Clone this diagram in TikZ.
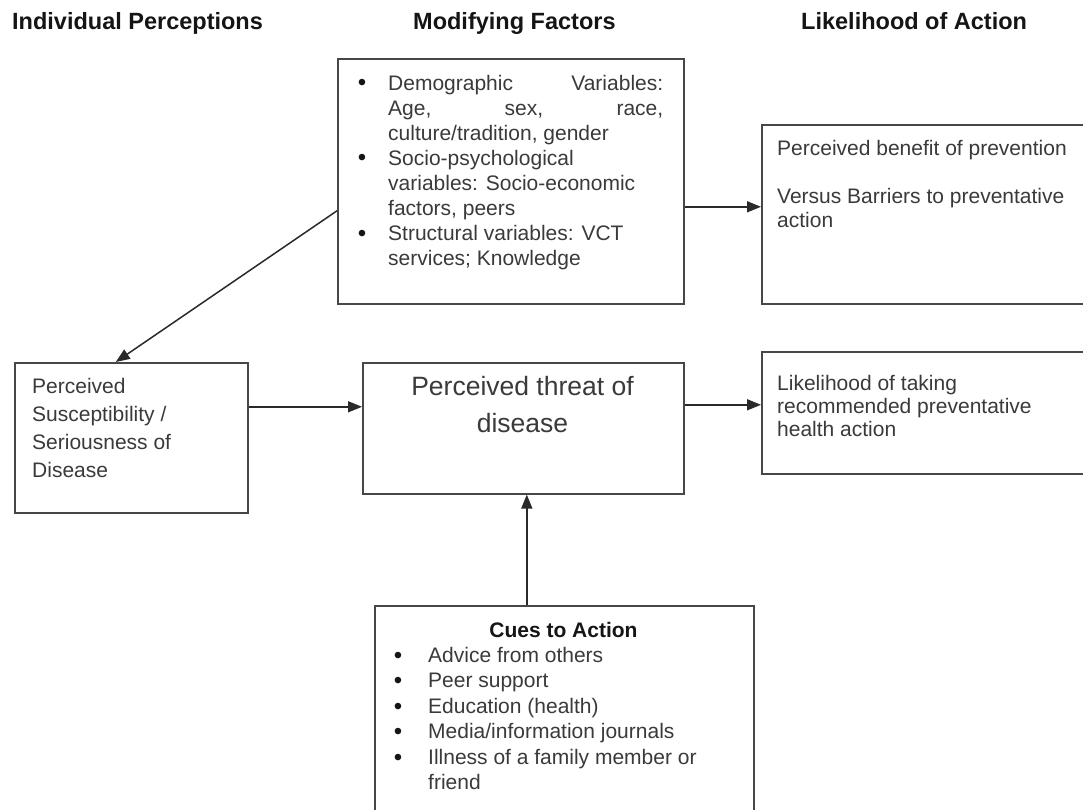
\documentclass[tikz,border=0pt]{standalone}
\usepackage{fontspec}
\setmainfont{Liberation Sans}
\usetikzlibrary{arrows.meta}
\definecolor{txt}{HTML}{3A3A3A}
\definecolor{hd}{HTML}{151515}
\definecolor{ln}{HTML}{474747}
\definecolor{ar}{HTML}{2A2A2A}
\newcommand{\bodyf}{\fontsize{21}{25}\selectfont}
\begin{document}
\begin{tikzpicture}[x=1pt,y=-1pt,
  box/.style={draw=ln, line width=1.6pt, rectangle, inner sep=0pt, anchor=north west},
  lbl/.style={inner sep=0pt, anchor=north west, align=left, text=txt},
  head/.style={inner sep=0pt, anchor=base west, text=hd, font=\fontsize{23.5}{28}\selectfont\bfseries},
  arr/.style={draw=ar, line width=1.5pt, -{Triangle[length=14pt,width=11pt]}},
  bul/.style={inner sep=0pt, anchor=base, text=hd, font=\fontsize{24}{25}\selectfont}]
\clip (0,0) rectangle (1083,810);
\fill[white] (0,0) rectangle (1083,810);

% headings
\node[head] (h1) at (12,30) {Individual Perceptions};
\node[head] (h2) at (413,30) {Modifying Factors};
\node[head] (h3) at (801,30) {Likelihood of Action};

% boxes
\node[box, minimum width=346pt, minimum height=245pt] (mod) at (337,58) {};
\node[box, minimum width=340pt, minimum height=179pt] (ben) at (761,124) {};
\node[box, minimum width=233pt, minimum height=150pt] (sus) at (14,362) {};
\node[box, minimum width=321pt, minimum height=131pt] (thr) at (362,362) {};
\node[box, minimum width=340pt, minimum height=122pt] (lik) at (761,351) {};
\node[box, minimum width=379pt, minimum height=220pt] (cue) at (374,605) {};

% modifying factors text
\node[bul] (mb1) at (362,91) {\textbullet};
\node[bul] (mb2) at (362,166) {\textbullet};
\node[bul] (mb3) at (362,241) {\textbullet};
\node[lbl, font=\bodyf] (mt1) at (388,72.5) {\strut\makebox[275pt][s]{Demographic Variables:}\\\makebox[275pt][s]{Age, sex, race,}\\culture/tradition, gender};
\node[lbl, font=\bodyf] (mt2) at (388,147.5) {\strut Socio-psychological\\variables: Socio-economic\\factors, peers};
\node[lbl, font=\bodyf] (mt3) at (388,222.5) {\strut Structural variables: VCT\\services; Knowledge};

% benefit text
\node[lbl, font=\fontsize{21}{24}\selectfont] (bt) at (777,138.2) {\strut Perceived benefit of prevention\\[24pt]Versus Barriers to preventative\\action};

% susceptibility text
\node[lbl, font=\fontsize{21}{28}\selectfont] (st) at (32,373.4) {\strut Perceived\\Susceptibility /\\Seriousness of\\Disease};

% threat text
\node[inner sep=0pt, anchor=north, align=center, text=txt, font=\fontsize{26.5}{37}\selectfont] (tt) at (522.5,369.1) {\strut Perceived threat of\\disease};

% likelihood text
\node[lbl, font=\fontsize{21}{23}\selectfont] (lt) at (777,373.9) {\strut Likelihood of taking\\recommended preventative\\health action};

% cues text
\node[inner sep=0pt, anchor=base, text=hd, font=\fontsize{21}{25}\selectfont\bfseries] (ct) at (563.5,637) {Cues to Action};
\node[bul] (cb1) at (398,663) {\textbullet};
\node[bul] (cb2) at (398,688.5) {\textbullet};
\node[bul] (cb3) at (398,714) {\textbullet};
\node[bul] (cb4) at (398,739.5) {\textbullet};
\node[bul] (cb5) at (398,765) {\textbullet};
\node[lbl, font=\fontsize{21}{25.5}\selectfont] (cl) at (428,644.15) {\strut Advice from others\\Peer support\\Education (health)\\Media/information journals\\Illness of a family member or\\friend};

% arrows
\draw[arr] ([yshift=-25.5pt]mod.east) -- ([yshift=-25.5pt]mod.east -| ben.west);
\draw[arr] ([yshift=-29.5pt]mod.west) -- ([xshift=-15.5pt]sus.north);
\draw[arr] ([yshift=31pt]sus.east) -- ([yshift=31pt]sus.east -| thr.west);
\draw[arr] ([yshift=23.5pt]thr.east) -- ([yshift=23.5pt]thr.east -| lik.west);
\draw[arr] ([xshift=-37.5pt]cue.north) -- ([xshift=-37.5pt]cue.north |- thr.south);
\end{tikzpicture}
\end{document}
